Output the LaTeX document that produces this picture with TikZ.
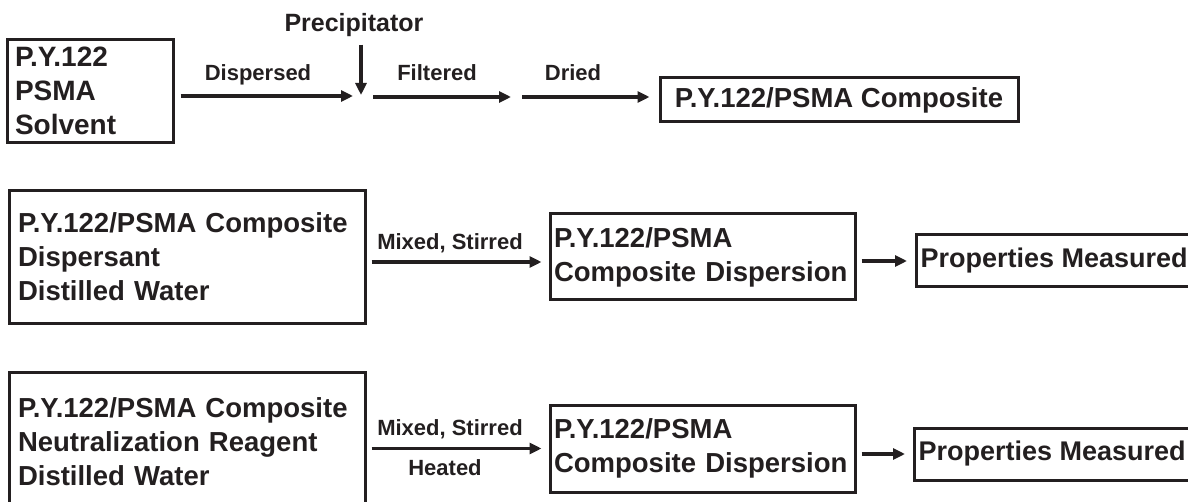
\documentclass[tikz,border=0pt]{standalone}
\usepackage{fontspec}
\setmainfont{Liberation Sans}
\usepackage{tikz}
\usetikzlibrary{arrows.meta,positioning,calc}
\definecolor{inkblack}{RGB}{35,31,32}

\begin{document}
\begin{tikzpicture}[x=1pt, y=-1pt,
    box/.style={draw=inkblack, text=inkblack, line width=3pt, inner ysep=0pt, align=left,
        font=\bfseries\fontsize{27.5}{34}\selectfont},
    lbl/.style={text=inkblack, anchor=base, font=\bfseries\fontsize{22}{26}\selectfont},
    flow/.style={draw=inkblack, line width=3.5pt, -{Triangle[length=12pt,width=11pt]}}]
        \useasboundingbox (0,0) rectangle (1188,502);
        \clip (0,0) rectangle (1188,502);
        % first line: composite
        \node[box, text width=150pt, inner xsep=8pt, minimum height=103pt,
            font=\bfseries\fontsize{28}{34}\selectfont] (src) at (90,91) {P.Y.122\\PSMA\\Solvent};
        \node[box, minimum width=358pt, minimum height=44pt, align=center] (comp) at (839,100) {P.Y.122/PSMA Composite};
        \node[lbl, font=\bfseries\fontsize{25}{30}\selectfont] (prec) at (354,32) {Precipitator};
        \node[lbl] (dispersed) at (258,81) {Dispersed};
        \node[lbl] (filtered) at (437,81) {Filtered};
        \node[lbl] (dried) at (573,81) {Dried};
        \coordinate (drop) at (361,96);
        \coordinate (filtS) at (373,97);
        \coordinate (filtE) at (511,97);
        \coordinate (dryS) at (522,97);
        \draw[flow, shorten <=6pt, shorten >=8pt] (src.east |- drop) -- (drop);
        \draw[flow, shorten <=4pt, shorten >=1pt] (prec.south -| drop) -- (drop);
        \draw[flow] (filtS) -- (filtE);
        \draw[flow, shorten >=9pt] (dryS) -- (comp.west |- dryS);
        % second line: dispersion
        \node[box, text width=338pt, inner xsep=9pt, minimum height=133pt] (mixA) at (187,257)
            {P.Y.122/PSMA Composite\\Dispersant\\Distilled Water};
        \node[box, text width=297pt, inner xsep=4pt, minimum height=86pt] (dispA) at (702.5,257)
            {P.Y.122/PSMA\\Composite Dispersion};
        \node[box, anchor=west, inner xsep=4pt, minimum height=52pt,
            font=\bfseries\fontsize{27}{34}\selectfont] (propA) at (915,261) {Properties Measured};
        \node[lbl] (stirA) at (450,250) {Mixed, Stirred};
        \draw[flow, shorten <=5pt, shorten >=7pt] ([yshift=-5pt]dispA.west -| mixA.east) -- ([yshift=-5pt]dispA.west);
        \draw[flow, shorten <=5pt, shorten >=8pt] (dispA.east |- propA.west) -- (propA.west);
        % third line: neutralized dispersion
        \node[box, text width=338pt, inner xsep=9pt, minimum height=140pt] (mixB) at (187,442)
            {P.Y.122/PSMA Composite\\Neutralization Reagent\\Distilled Water};
        \node[box, text width=297pt, inner xsep=4pt, minimum height=87pt] (dispB) at (702.5,448.5)
            {P.Y.122/PSMA\\Composite Dispersion};
        \node[box, anchor=west, inner xsep=4pt, minimum height=52pt,
            font=\bfseries\fontsize{27}{34}\selectfont] (propB) at (913,454) {Properties Measured};
        \node[lbl] (stirB) at (450,435) {Mixed, Stirred};
        \node[lbl] (heated) at (445,475) {Heated};
        \draw[flow, shorten <=5pt, shorten >=7pt] (dispB.west -| mixB.east) -- (dispB.west);
        \draw[flow, shorten <=5pt, shorten >=8pt] (dispB.east |- propB.west) -- (propB.west);
    \end{tikzpicture}
\end{document}
